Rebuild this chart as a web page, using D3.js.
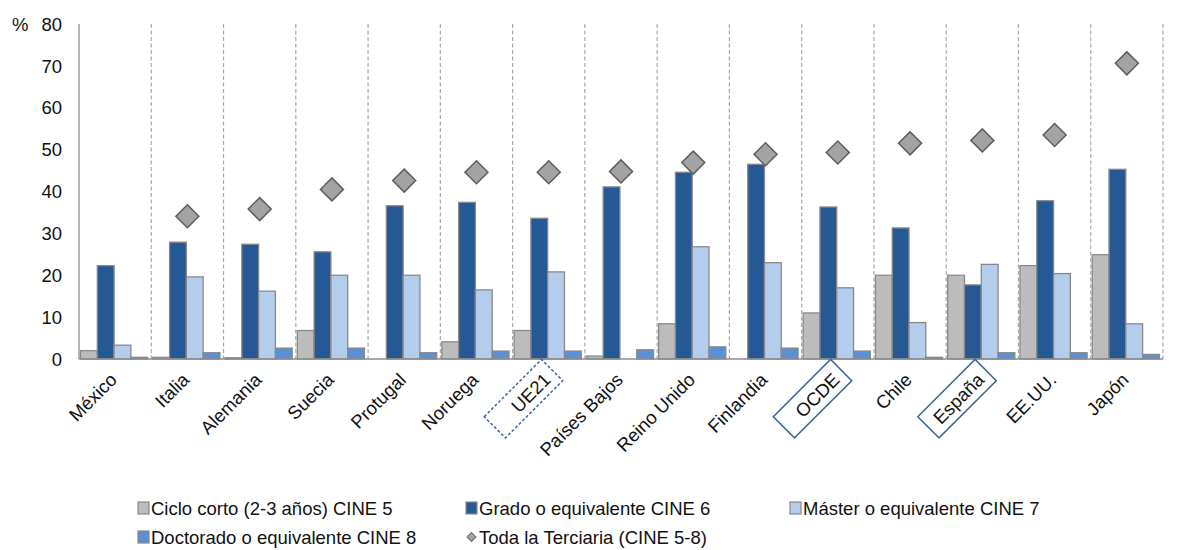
<!DOCTYPE html>
<html>
<head>
<meta charset="utf-8">
<script src="https://cdn.jsdelivr.net/npm/d3@7"></script>
<style>
  html, body { margin: 0; padding: 0; background: #ffffff; }
  svg { display: block; font-family: Arial, "Liberation Sans", sans-serif; }
</style>
</head>
<body>
<svg id="chart" width="1180" height="550"></svg>
<script>
// Categories (countries / aggregates), in display order
const categories = ["México", "Italia", "Alemania", "Suecia", "Protugal", "Noruega", "UE21",
  "Países Bajos", "Reino Unido", "Finlandia", "OCDE", "Chile", "España", "EE.UU.", "Japón"];

// Percentages by level of tertiary education
const cine5 = [2.0, 0.4, 0.3, 6.8, 0, 4.1, 6.8, 0.7, 8.4, 0, 11.0, 20.0, 20.0, 22.3, 24.9];
const cine6 = [22.3, 27.9, 27.4, 25.6, 36.6, 37.4, 33.6, 41.1, 44.6, 46.5, 36.3, 31.3, 17.7, 37.8, 45.3];
const cine7 = [3.3, 19.6, 16.2, 20.0, 20.0, 16.5, 20.8, 0, 26.8, 23.0, 17.0, 8.7, 22.6, 20.4, 8.4];
const cine8 = [0.4, 1.5, 2.6, 2.6, 1.5, 1.9, 1.9, 2.2, 2.9, 2.6, 1.9, 0.4, 1.5, 1.5, 1.1];
const totalTertiary = [null, 34.1, 35.8, 40.5, 42.6, 44.6, 44.6, 44.8, 46.9, 48.9, 49.3, 51.5, 52.2, 53.5, 70.6];

const seriesNames = ["Ciclo corto (2-3 años) CINE 5", "Grado o equivalente CINE 6",
  "Máster o equivalente CINE 7", "Doctorado o equivalente CINE 8"];
const totalName = "Toda la Terciaria (CINE 5-8)";

const yTicks = [0, 10, 20, 30, 40, 50, 60, 70, 80];

// Aggregates framed on the axis
const framedDashed = ["UE21"];
const framedSolid = ["OCDE", "España"];

// ---- styling ----
const colors = ["#bcbcbc", "#255996", "#b5cdec", "#5b8fd6"];
const barStroke = "#898989";
const frameColor = "#3d679c";
const fontSize = 18.5;

const plot = { left: 79, right: 1163, top: 24, bottom: 359 };

const svg = d3.select("#chart");

const x = d3.scaleBand().domain(categories).range([plot.left, plot.right]).padding(0);
const xInner = d3.scaleBand().domain(d3.range(4)).range([1.5, x.bandwidth() - 3.6]).padding(0);
const y = d3.scaleLinear().domain([0, 80]).range([plot.bottom, plot.top]);

const seriesValues = [cine5, cine6, cine7, cine8];

// Dashed separators between categories (and at the right edge)
const separators = categories.slice(1).map(c => x(c)).concat([plot.right]);
svg.append("g")
  .selectAll("line")
  .data(separators)
  .join("line")
  .attr("x1", d => d)
  .attr("x2", d => d)
  .attr("y1", y(80))
  .attr("y2", y(0))
  .attr("stroke", "#a9a9a9")
  .attr("stroke-width", 1.2)
  .attr("stroke-dasharray", "4,2.5");

// Bars
const groups = svg.append("g")
  .selectAll("g")
  .data(categories)
  .join("g")
  .attr("transform", d => `translate(${x(d)},0)`);

groups.selectAll("rect")
  .data((d, i) => seriesValues.map((vals, s) => ({ s, v: vals[i] })).filter(e => e.v > 0))
  .join("rect")
  .attr("x", d => xInner(d.s))
  .attr("width", xInner.bandwidth())
  .attr("y", d => y(d.v))
  .attr("height", d => y(0) - y(d.v))
  .attr("fill", d => colors[d.s])
  .attr("stroke", barStroke)
  .attr("stroke-width", 1.3);

// Axis lines
svg.append("line")
  .attr("x1", plot.left).attr("x2", plot.left)
  .attr("y1", y(80)).attr("y2", y(0))
  .attr("stroke", "#8c8c8c").attr("stroke-width", 1.3);
svg.append("line")
  .attr("x1", plot.left).attr("x2", plot.right)
  .attr("y1", y(0)).attr("y2", y(0))
  .attr("stroke", "#8c8c8c").attr("stroke-width", 1.3);

// Diamonds for total tertiary
const diamond = d3.symbol().type(d3.symbolSquare).size(2 * 11.5 * 11.5);
svg.append("g")
  .selectAll("path")
  .data(categories.map((c, i) => ({ c, v: totalTertiary[i] })).filter(d => d.v != null))
  .join("path")
  .attr("d", diamond)
  .attr("transform", d => `translate(${x(d.c) + x.bandwidth() / 2},${y(d.v)}) rotate(45)`)
  .attr("fill", "#a3a3a3")
  .attr("stroke", "#5e5e5e")
  .attr("stroke-width", 1.5);

// Y tick labels
svg.append("g")
  .selectAll("text")
  .data(yTicks)
  .join("text")
  .attr("x", 62)
  .attr("y", d => y(d))
  .attr("dy", "0.36em")
  .attr("text-anchor", "end")
  .attr("font-size", fontSize)
  .attr("fill", "#111")
  .text(d => d);

svg.append("text")
  .attr("x", 12)
  .attr("y", y(80))
  .attr("dy", "0.36em")
  .attr("font-size", fontSize)
  .attr("fill", "#111")
  .text("%");

// Category labels, rotated
const labels = svg.append("g")
  .selectAll("g")
  .data(categories)
  .join("g")
  .attr("transform", d => `translate(${x(d) + x.bandwidth() / 2 + 3},${y(0) + 22}) rotate(-45)`);

labels.filter(d => framedDashed.includes(d) || framedSolid.includes(d))
  .append("rect")
  .attr("x", -73)
  .attr("y", -22.5)
  .attr("width", 81)
  .attr("height", 30)
  .attr("fill", "none")
  .attr("stroke", frameColor)
  .attr("stroke-width", 1.5)
  .attr("stroke-dasharray", d => framedDashed.includes(d) ? "3,2" : null);

labels.append("text")
  .attr("text-anchor", "end")
  .attr("font-size", fontSize)
  .attr("fill", "#111")
  .text(d => d);

// Legend
const legendItems = [
  { name: seriesNames[0], type: "rect", color: colors[0], x: 138, y: 508 },
  { name: seriesNames[1], type: "rect", color: colors[1], x: 466, y: 508 },
  { name: seriesNames[2], type: "rect", color: colors[2], x: 790, y: 508 },
  { name: seriesNames[3], type: "rect", color: colors[3], x: 138, y: 537 },
  { name: totalName, type: "diamond", color: "#a3a3a3", x: 466, y: 537 }
];

const legend = svg.append("g")
  .selectAll("g")
  .data(legendItems)
  .join("g")
  .attr("transform", d => `translate(${d.x},${d.y})`);

legend.filter(d => d.type === "rect")
  .append("rect")
  .attr("x", 0).attr("y", -6)
  .attr("width", 11).attr("height", 12)
  .attr("fill", d => d.color)
  .attr("stroke", barStroke)
  .attr("stroke-width", 1.2);

legend.filter(d => d.type === "diamond")
  .append("path")
  .attr("d", d3.symbol().type(d3.symbolSquare).size(2 * 4.5 * 4.5))
  .attr("transform", "translate(5.5,0) rotate(45)")
  .attr("fill", d => d.color)
  .attr("stroke", "#6a6a6a")
  .attr("stroke-width", 1);

legend.append("text")
  .attr("x", 13)
  .attr("dy", "0.36em")
  .attr("font-size", fontSize)
  .attr("fill", "#111")
  .text(d => d.name);
</script>
</body>
</html>
